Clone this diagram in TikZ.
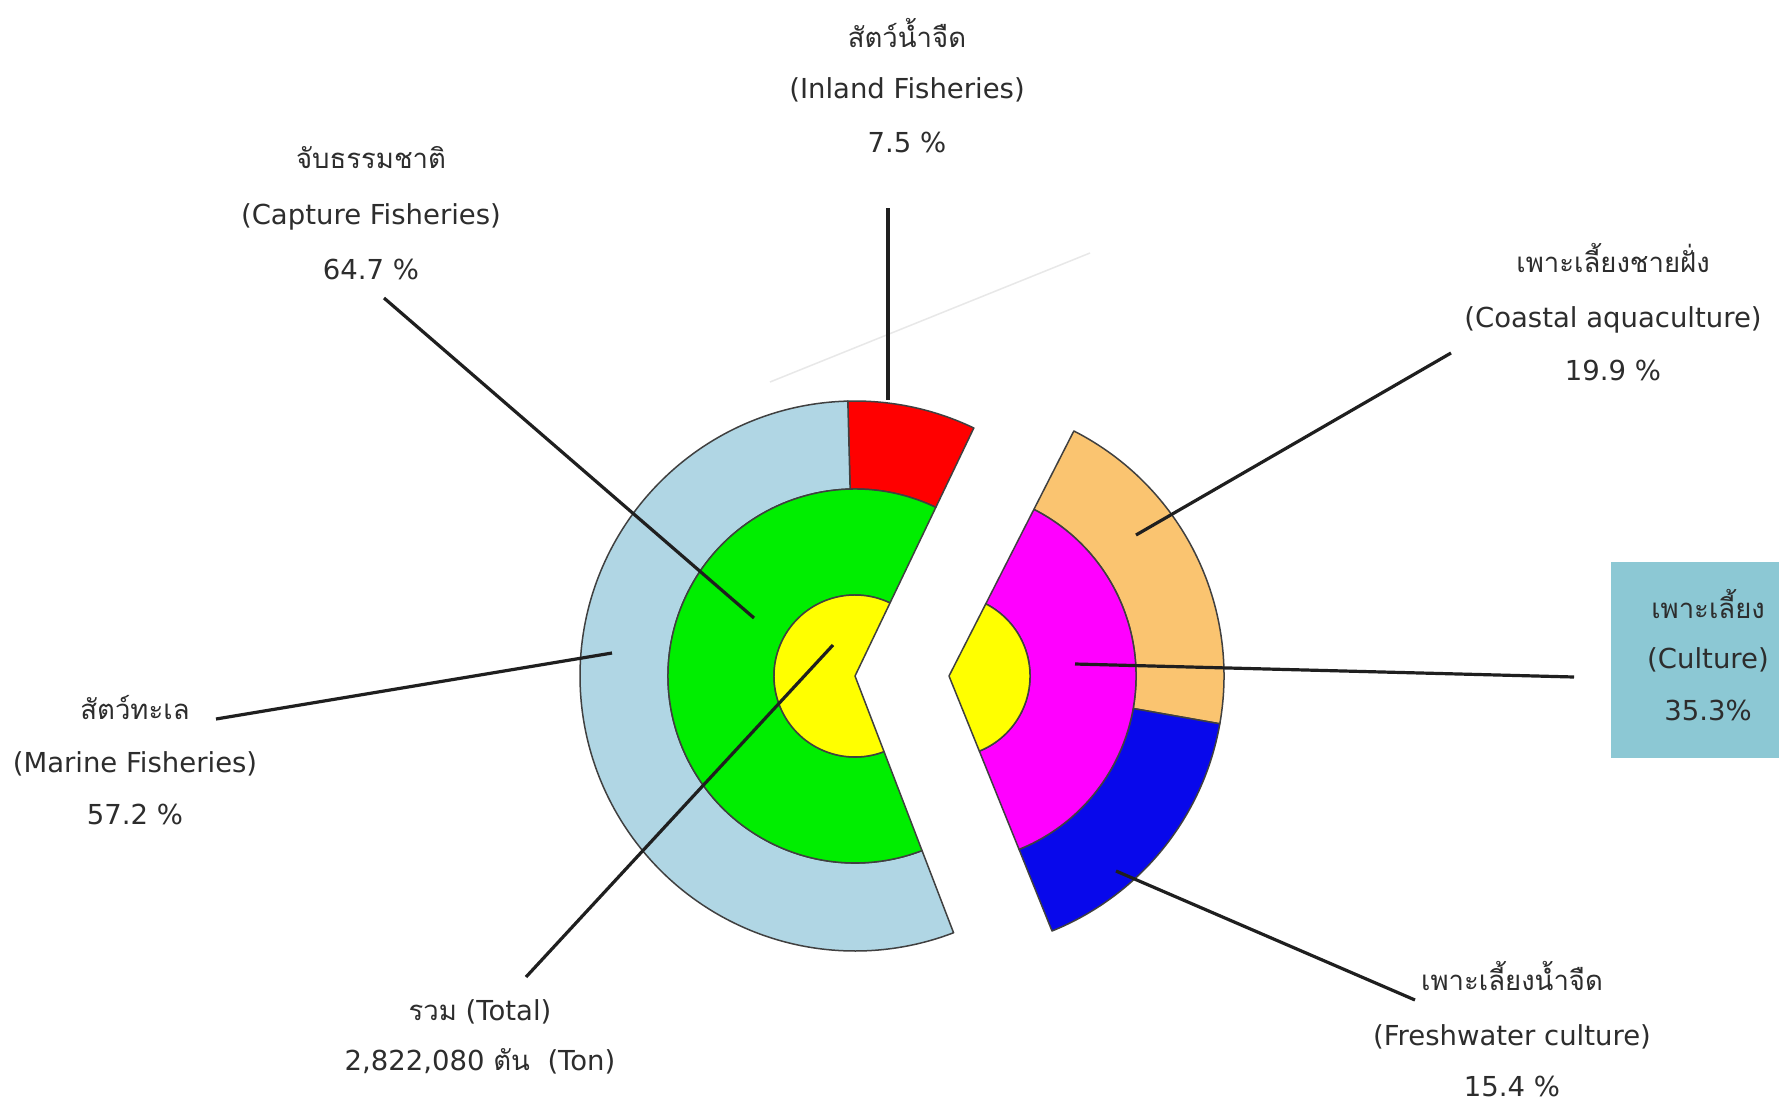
\documentclass[tikz,border=0pt]{standalone}
\usepackage{fontspec}
\setmainfont{DejaVu Sans}
\newfontfamily\thai[Script=Thai]{Loma}
\definecolor{txt}{RGB}{45,45,45}
\definecolor{cLB}{RGB}{176,214,228}
\definecolor{cRed}{RGB}{255,0,0}
\definecolor{cGreen}{RGB}{0,238,0}
\definecolor{cYel}{RGB}{255,255,0}
\definecolor{cMag}{RGB}{255,0,255}
\definecolor{cOra}{RGB}{250,196,112}
\definecolor{cBlu}{RGB}{8,8,235}
\definecolor{cBox}{RGB}{140,200,212}
% ring sector: #1 start angle, #2 end angle (math, ccw), #3 inner r, #4 outer r, #5 style
\newcommand\ringsec[5]{%
  \filldraw[#5] ({-(#1)}:#4) arc[start angle={-(#1)}, end angle={-(#2)}, radius=#4]
    -- ({-(#2)}:#3) arc[start angle={-(#2)}, end angle={-(#1)}, radius=#3] -- cycle;}
\newcommand\piesec[4]{%
  \filldraw[#4] (0,0) -- ({-(#1)}:#3) arc[start angle={-(#1)}, end angle={-(#2)}, radius=#3] -- cycle;}
\begin{document}
\begin{tikzpicture}[x=1pt,y=-1pt,
  lbl/.style={text=txt, font=\fontsize{27.5}{32}\selectfont, inner sep=0pt, anchor=base},
  lead/.style={line width=3.2pt, draw=black!88},
  seg/.style={draw=black!75, line width=1.5pt, line join=round}]
\useasboundingbox[fill=white] (0,0) rectangle (1785,1103);

% faint artefact line
\draw[gray!18, line width=1.5pt] (770,382) -- (1090,253);

% left pie (capture)
\begin{scope}[shift={(855,676)}]
  \ringsec{64.4}{91.5}{187}{275}{seg, fill=cRed}
  \ringsec{91.5}{291}{187}{275}{seg, fill=cLB}
  \ringsec{64.4}{291}{81}{187}{seg, fill=cGreen}
  \piesec{64.4}{291}{81}{seg, fill=cYel}
\end{scope}
% right pie (culture)
\begin{scope}[shift={(949,676)}]
  \ringsec{-10}{63}{187}{275}{seg, fill=cOra}
  \ringsec{-68}{-10}{187}{275}{seg, fill=cBlu}
  \ringsec{-68}{63}{81}{187}{seg, fill=cMag}
  \piesec{-68}{63}{81}{seg, fill=cYel}
\end{scope}

% culture box
\node[fill=cBox, minimum width=168pt, minimum height=196pt, inner sep=0pt] (box) at (1695,660) {};

% labels
\node[lbl] (inl1) at (907,47) {\thai สัตว์น้ำจืด};
\node[lbl] (inl2) at (907,98) {(Inland Fisheries)};
\node[lbl] (inl3) at (907,152) {7.5 \%};

\node[lbl] (cap1) at (371,168) {\thai จับธรรมชาติ};
\node[lbl] (cap2) at (371,224) {(Capture Fisheries)};
\node[lbl] (cap3) at (371,279) {64.7 \%};

\node[lbl] (coa1) at (1613,272) {\thai เพาะเลี้ยงชายฝั่ง};
\node[lbl] (coa2) at (1613,327) {(Coastal aquaculture)};
\node[lbl] (coa3) at (1613,380) {19.9 \%};

\node[lbl] (cul1) at (1708,618) {\thai เพาะเลี้ยง};
\node[lbl] (cul2) at (1708,668) {(Culture)};
\node[lbl] (cul3) at (1708,720) {35.3\%};

\node[lbl] (mar1) at (135,719) {\thai สัตว์ทะเล};
\node[lbl] (mar2) at (135,772) {(Marine Fisheries)};
\node[lbl] (mar3) at (135,824) {57.2 \%};

\node[lbl] (tot1) at (480,1020) {{\thai รวม} (Total)};
\node[lbl] (tot2) at (480,1070) {2,822,080 {\thai ตัน}\ \ (Ton)};

\node[lbl] (fre1) at (1512,990) {\thai เพาะเลี้ยงน้ำจืด};
\node[lbl] (fre2) at (1512,1045) {(Freshwater culture)};
\node[lbl] (fre3) at (1512,1096) {15.4 \%};

% leader coordinates
\coordinate (inlA) at (888,208);  \coordinate (inlB) at (888,400);
\coordinate (capA) at (384,298);  \coordinate (capB) at (754,618);
\coordinate (marA) at (216,719);  \coordinate (marB) at (612,653);
\coordinate (totA) at (526,977);  \coordinate (totB) at (833,645);
\coordinate (culA) at (1574,677); \coordinate (culB) at (1075,664);
\coordinate (coaA) at (1451,353); \coordinate (coaB) at (1136,535);
\coordinate (freA) at (1415,1000);\coordinate (freB) at (1116,871);

\draw[lead] (inlA) -- (inlB);
\draw[lead] (capA) -- (capB);
\draw[lead] (marA) -- (marB);
\draw[lead] (totA) -- (totB);
\draw[lead] (culA) -- (culB);
\draw[lead] (coaA) -- (coaB);
\draw[lead] (freA) -- (freB);
\end{tikzpicture}
\end{document}
